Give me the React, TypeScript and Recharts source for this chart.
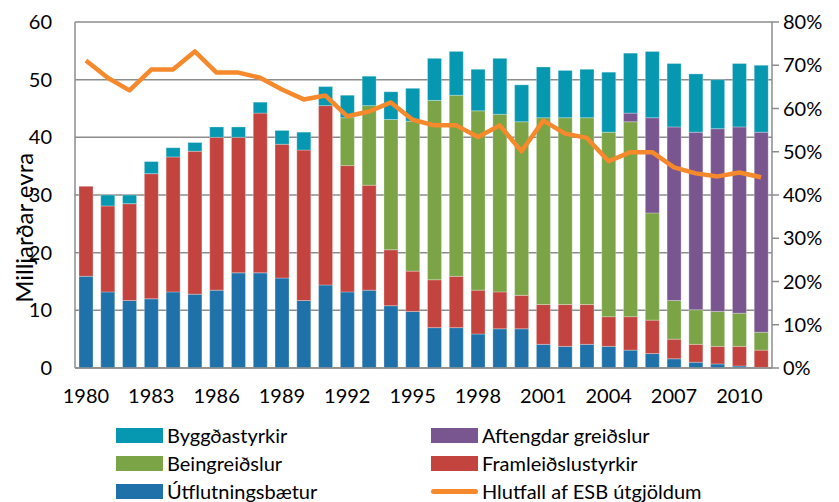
import { ComposedChart, Bar, Line, XAxis, YAxis, CartesianGrid, Legend } from "recharts";

const years = [
  1980, 1981, 1982, 1983, 1984, 1985, 1986, 1987, 1988, 1989, 1990, 1991, 1992, 1993, 1994, 1995,
  1996, 1997, 1998, 1999, 2000, 2001, 2002, 2003, 2004, 2005, 2006, 2007, 2008, 2009, 2010, 2011,
];

// billions of euro, stacked from the bottom up
const utflutningsbaetur = [
  15.9, 13.2, 11.7, 12.0, 13.2, 12.8, 13.5, 16.5, 16.5, 15.6, 11.7, 14.4, 13.2, 13.5, 10.8, 9.8,
  7.0, 7.0, 5.9, 6.8, 6.8, 4.1, 3.75, 4.1, 3.75, 3.1, 2.5, 1.6, 1.0, 0.7, 0.35, 0.1,
];
const framleidslustyrkir = [
  15.6, 14.9, 16.8, 21.7, 23.4, 24.8, 26.5, 23.5, 27.7, 23.2, 26.1, 31.1, 21.9, 18.2, 9.7, 7.0,
  8.3, 8.9, 7.6, 6.4, 5.8, 6.9, 7.25, 6.9, 5.15, 5.8, 5.8, 3.4, 3.1, 3.05, 3.4, 3.0,
];
const beingreidslur = [
  0, 0, 0, 0, 0, 0, 0, 0, 0, 0, 0, 0, 8.3, 13.8, 22.6, 26.0,
  31.1, 31.4, 31.1, 30.8, 30.1, 32.4, 32.4, 32.4, 32.0, 33.8, 18.6, 6.7, 6.0, 6.05, 5.75, 3.1,
];
const aftengdarGreidslur = [
  0, 0, 0, 0, 0, 0, 0, 0, 0, 0, 0, 0, 0, 0, 0, 0,
  0, 0, 0, 0, 0, 0, 0, 0, 0, 1.5, 16.5, 30.1, 30.8, 31.7, 32.3, 34.7,
];
const byggdastyrkir = [
  0, 1.9, 1.5, 2.1, 1.6, 1.5, 1.8, 1.8, 1.9, 2.4, 3.1, 3.3, 3.9, 5.1, 4.8, 5.7,
  7.3, 7.6, 7.2, 9.7, 6.4, 8.8, 8.2, 8.4, 10.4, 10.4, 11.5, 11.0, 10.1, 8.5, 11.0, 11.6,
];
// share of EU budget, %
const hlutfall = [
  71.1, 67.1, 64.2, 69.0, 69.0, 73.2, 68.3, 68.3, 67.1, 64.4, 62.1, 63.0, 58.2, 59.3, 61.4, 57.4,
  56.1, 56.1, 53.4, 56.1, 50.1, 57.2, 54.2, 53.2, 47.8, 49.9, 49.9, 46.4, 45.0, 44.3, 45.2, 44.1,
];

const leftTicks = [0, 10, 20, 30, 40, 50, 60];
const rightTicks = [0, 10, 20, 30, 40, 50, 60, 70, 80];

const FONT = "Lato, 'Noto Sans', sans-serif";
const GRAY = "#8c8c8c";

const barSeries = [
  { key: "utfl", name: "Útflutningsbætur", color: "#1f71aa" },
  { key: "fram", name: "Framleiðslustyrkir", color: "#c3443f" },
  { key: "bein", name: "Beingreiðslur", color: "#7aa445" },
  { key: "aft", name: "Aftengdar greiðslur", color: "#7a5690" },
  { key: "bygg", name: "Byggðastyrkir", color: "#0698b0" },
];
const lineColor = "#f5892b";

// legend reads row by row, two columns
const legendOrder = [
  { name: "Byggðastyrkir", color: "#0698b0", line: false },
  { name: "Aftengdar greiðslur", color: "#7a5690", line: false },
  { name: "Beingreiðslur", color: "#7aa445", line: false },
  { name: "Framleiðslustyrkir", color: "#c3443f", line: false },
  { name: "Útflutningsbætur", color: "#1f71aa", line: false },
  { name: "Hlutfall af ESB útgjöldum", color: lineColor, line: true },
];

const data = years.map((y, i) => ({
  year: y,
  utfl: utflutningsbaetur[i],
  fram: framleidslustyrkir[i],
  bein: beingreidslur[i],
  aft: aftengdarGreidslur[i],
  bygg: byggdastyrkir[i],
  hlutfall: hlutfall[i],
}));

function ChartLegend() {
  return (
    <div
      style={{
        display: "grid",
        gridTemplateColumns: "315px 320px",
        gridAutoRows: "28px",
        paddingLeft: 116,
        fontFamily: FONT,
        fontSize: 20,
        color: "#000",
      }}
    >
      {legendOrder.map((it) => (
        <div key={it.name} style={{ display: "flex", alignItems: "center" }}>
          {it.line ? (
            <span style={{ width: 47, height: 15, display: "flex", alignItems: "center" }}>
              <span style={{ width: 47, height: 5, borderRadius: 2.5, background: it.color }} />
            </span>
          ) : (
            <span style={{ width: 47, height: 15, background: it.color }} />
          )}
          <span style={{ marginLeft: 4, whiteSpace: "nowrap" }}>{it.name}</span>
        </div>
      ))}
    </div>
  );
}

function YLabel(props: any) {
  const vb = props.viewBox;
  const x = vb.x + 24;
  const y = vb.y + vb.height * 0.595;
  return (
    <text x={x} y={y} transform={`rotate(-90, ${x}, ${y})`} textAnchor="middle" dominantBaseline="central" fontSize={24} fontFamily={FONT} fill="#000">
      Milljarðar evra
    </text>
  );
}

export default function App() {
  return (
    <div style={{ position: "absolute", left: 0, top: 0, width: 839, height: 502, background: "#fff" }}>
      <ComposedChart width={839} height={502} data={data} margin={{ top: 22, right: 0, left: 0, bottom: 0 }} barSize={14}>
        <CartesianGrid yAxisId="left" vertical={false} stroke={GRAY} strokeWidth={1.5} />
        <XAxis
          dataKey="year"
          interval={2}
          tickLine={false}
          axisLine={{ stroke: GRAY, strokeWidth: 1.5 }}
          tick={{ fontSize: 20, fontFamily: FONT, fill: "#000" }}
          tickSize={0}
          tickMargin={21}
          height={30}
        />
        <YAxis
          yAxisId="left"
          domain={[0, 60]}
          ticks={leftTicks}
          width={75}
          tickLine={false}
          axisLine={{ stroke: GRAY, strokeWidth: 1.5 }}
          tick={{ fontSize: 20, fontFamily: FONT, fill: "#000" }}
          tickSize={0}
          tickMargin={23}
          label={<YLabel />}
        />
        <YAxis
          yAxisId="right"
          orientation="right"
          domain={[0, 80]}
          ticks={rightTicks}
          width={67}
          tickFormatter={(v) => `${v}%`}
          tickLine={{ stroke: GRAY, strokeWidth: 1.5 }}
          axisLine={{ stroke: GRAY, strokeWidth: 1.5 }}
          tick={{ fontSize: 20, fontFamily: FONT, fill: "#000" }}
          tickSize={7}
          tickMargin={4}
        />
        {barSeries.map((s) => (
          <Bar
            key={s.key}
            yAxisId="left"
            dataKey={s.key}
            name={s.name}
            stackId="a"
            fill={s.color}
            stroke="#ffffff"
            strokeOpacity={0.35}
            strokeWidth={0.8}
            isAnimationActive={false}
          />
        ))}
        <Line
          yAxisId="right"
          dataKey="hlutfall"
          name="Hlutfall af ESB útgjöldum"
          type="linear"
          stroke={lineColor}
          strokeWidth={4.5}
          strokeLinejoin="round"
          dot={false}
          isAnimationActive={false}
        />
        <Legend verticalAlign="bottom" height={104} content={() => <ChartLegend />} wrapperStyle={{ left: 0, top: 421, width: 839 }} />
      </ComposedChart>
    </div>
  );
}
